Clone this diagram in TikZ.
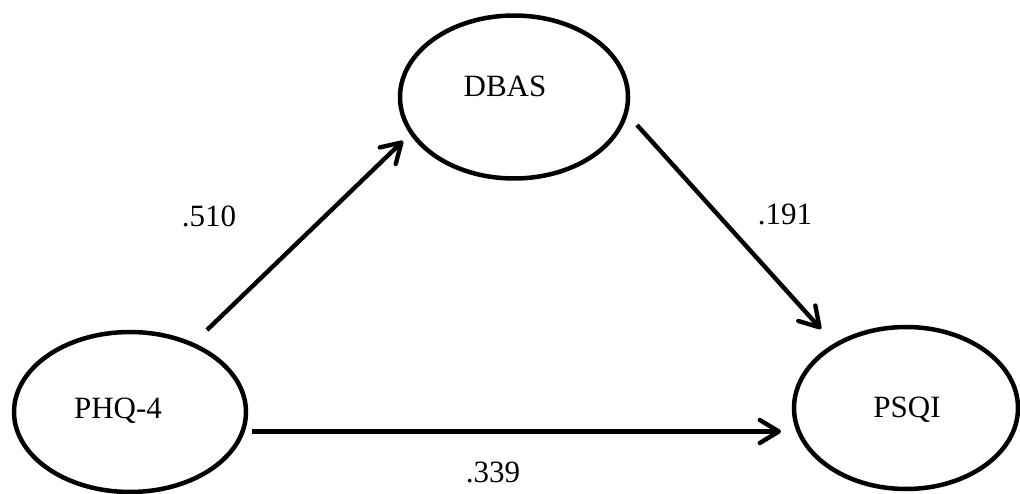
\documentclass[tikz,border=0pt]{standalone}
\usepackage{fontspec}
\setmainfont{Liberation Serif}
\usetikzlibrary{arrows.meta,shapes.geometric}

\tikzset{
  construct/.style={draw, ellipse, line width=4.5pt, inner sep=0pt},
  caption/.style={anchor=base, inner sep=0pt, font=\fontsize{31}{37}\selectfont},
  path/.style={line width=4.4pt, line cap=butt,
    -{Straight Barb[length=19pt,width=23pt,round]}},
}

\begin{document}
\begin{tikzpicture}[x=1pt,y=-1pt]
  \useasboundingbox (0,0) rectangle (1020,494);

  % latent constructs
  \node[construct, minimum width=228pt, minimum height=163pt] (dbas) at (514,97) {};
  \node[construct, minimum width=232pt, minimum height=160pt] (phq)  at (130,412) {};
  \node[construct, minimum width=224pt, minimum height=162pt] (psqi) at (906,408) {};

  % construct names
  \node[caption] (dbasname) at (505,97)  {DBAS};
  \node[caption] (phqname)  at (118,418) {PHQ-4};
  \node[caption] (psqiname) at (907,417) {PSQI};

  % path end points, kept clear of the ellipse outlines
  \coordinate (phqTop)    at (207,330);
  \coordinate (dbasIn)    at (403,141);
  \coordinate (dbasOut)   at (637,125);
  \coordinate (psqiTop)   at (821,329);
  \coordinate (phqRight)  at (252,431.5);
  \coordinate (psqiLeft)  at (781,431.5);

  % structural paths
  \draw[path] (phqTop) -- (dbasIn);
  \draw[path] (dbasOut) -- (psqiTop);
  \draw[path] (phqRight) -- (psqiLeft);

  % path coefficients
  \node[caption] (ca) at (209,227) {.510};
  \node[caption] (cb) at (785,225) {.191};
  \node[caption] (cc) at (493,482) {.339};
\end{tikzpicture}
\end{document}
